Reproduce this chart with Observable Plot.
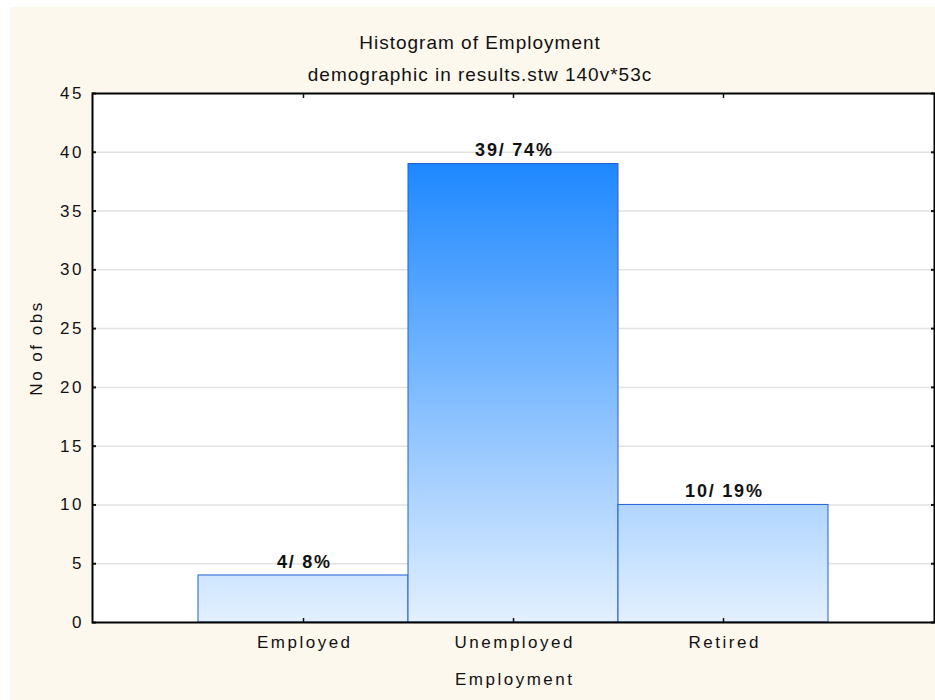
<!DOCTYPE html>
<html>
<head>
<meta charset="utf-8">
<script src="https://cdn.jsdelivr.net/npm/d3@7"></script>
<script src="https://cdn.jsdelivr.net/npm/@observablehq/plot@0.6"></script>
<style>
  html, body { margin: 0; padding: 0; background: #ffffff; }
  #wrap { position: relative; width: 935px; height: 700px; overflow: hidden; }
  #cream { position: absolute; left: 10px; top: 7px; right: 0; bottom: 0; background: #fdf8ee; }
  #chart { position: absolute; left: 0; top: 0; }
</style>
</head>
<body>
<div id="wrap"><div id="cream"></div><div id="chart"></div></div>
<script>
const categories = ["Employed", "Unemployed", "Retired"];
const counts = [4, 39, 10];
const barLabels = ["4/ 8%", "39/ 74%", "10/ 19%"];
const yTicks = [0, 5, 10, 15, 20, 25, 30, 35, 40, 45];
const titleText = "Histogram of Employment";
const subtitleText = "demographic in results.stw 140v*53c";
const xTitle = "Employment";
const yTitle = "No of obs";

const data = categories.map((c, i) => ({cat: c, n: counts[i], label: barLabels[i]}));
const font = "'Liberation Sans', Arial, sans-serif";

const plot = Plot.plot({
  width: 935,
  height: 700,
  marginTop: 93,
  marginBottom: 78,
  marginLeft: 92,
  marginRight: 1,
  style: {background: "transparent", fontFamily: font, fontSize: "17px", color: "#111", letterSpacing: "2.5px"},
  x: {type: "band", domain: categories, paddingInner: 0, paddingOuter: 0.5, label: null},
  y: {domain: [0, 45], label: null},
  marks: [
    Plot.frame({fill: "white", stroke: null}),
    Plot.ruleY(yTicks.filter(d => d > 0 && d < 45), {stroke: "#e2e2e2", strokeWidth: 1.5}),
    Plot.barY(data, {x: "cat", y: "n", fill: "url(#empGrad)", stroke: "#2060d8", strokeWidth: 1}),
    Plot.text(data, {x: "cat", y: "n", text: "label", dy: -13.5, dx: 0.9, fontWeight: "bold", fill: "#111", fontSize: 18}),
    Plot.axisY({anchor: "left", ticks: yTicks, tickSize: 0, tickPadding: 8.5, label: null, fill: "#111"}),
    Plot.axisY({anchor: "left", ticks: yTicks, tickSize: -4, tickFormat: () => "", label: null, strokeWidth: 2}),
    Plot.axisY({anchor: "right", ticks: yTicks, tickSize: -4, tickFormat: () => "", label: null, strokeWidth: 2}),
    Plot.axisX({anchor: "bottom", tickSize: 0, tickPadding: 13, dx: 1.25, label: null, fill: "#111"}),
    Plot.axisX({anchor: "bottom", tickSize: -4, tickFormat: () => "", label: null, strokeWidth: 1.5}),
    Plot.axisX({anchor: "top", tickSize: -4, tickFormat: () => "", label: null, strokeWidth: 1.5}),
    Plot.frame({stroke: "black", strokeWidth: 2}),
    Plot.text([titleText], {frameAnchor: "top", textAnchor: "middle", dy: -58.3, dx: -33.5, fontSize: 19, fill: "#111"}),
    Plot.text([subtitleText], {frameAnchor: "top", textAnchor: "middle", dy: -25.8, dx: -33.5, fontSize: 19, fill: "#111"}),
    Plot.text([xTitle], {frameAnchor: "bottom", textAnchor: "middle", dy: 62.7, dx: 1.25, fontSize: 17, fill: "#111"}),
    Plot.text([yTitle], {frameAnchor: "left", textAnchor: "middle", dx: -56.3, dy: -10, rotate: -90, fontSize: 17, fill: "#111"})
  ]
});

// vertical gradient spanning from the tallest bar down to zero, in plot coordinates
const yScale = plot.scale("y");
const svgNS = "http://www.w3.org/2000/svg";
const defs = document.createElementNS(svgNS, "defs");
const grad = document.createElementNS(svgNS, "linearGradient");
grad.setAttribute("id", "empGrad");
grad.setAttribute("gradientUnits", "userSpaceOnUse");
grad.setAttribute("x1", 0); grad.setAttribute("x2", 0);
grad.setAttribute("y1", yScale.apply(d3.max(counts)));
grad.setAttribute("y2", yScale.apply(0));
[["0%", "#1e88ff"], ["100%", "#e3f0ff"]].forEach(([o, c]) => {
  const s = document.createElementNS(svgNS, "stop");
  s.setAttribute("offset", o); s.setAttribute("stop-color", c);
  grad.appendChild(s);
});
defs.appendChild(grad);
plot.insertBefore(defs, plot.firstChild);

d3.select(plot).selectAll("text")
  .filter(function () { return this.textContent === titleText || this.textContent === subtitleText; })
  .style("letter-spacing", "1px");
d3.select(plot).selectAll("text")
  .filter(function () { return barLabels.includes(this.textContent); })
  .style("letter-spacing", "1.8px");

document.getElementById("chart").appendChild(plot);
</script>
</body>
</html>
